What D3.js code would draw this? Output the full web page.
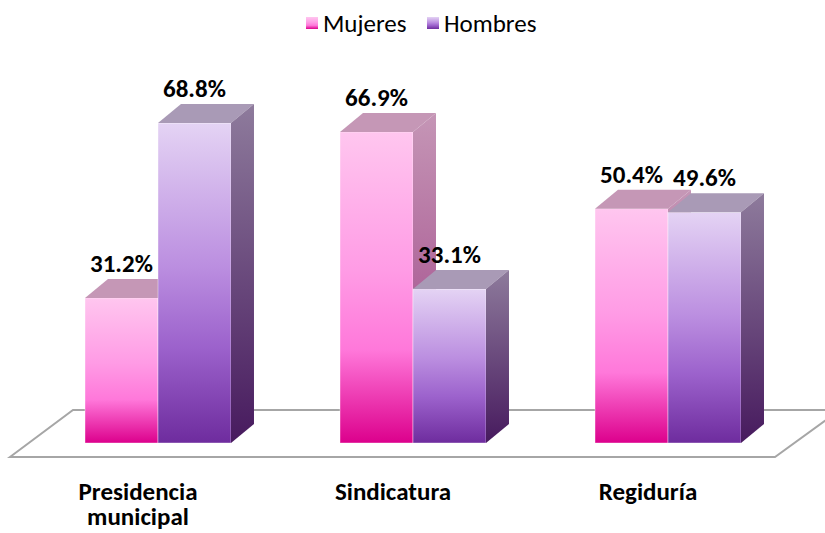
<!DOCTYPE html>
<html>
<head>
<meta charset="utf-8">
<script src="https://cdn.jsdelivr.net/npm/d3@7"></script>
<style>
  body { margin: 0; background: #fff; }
  svg { display: block; }
  text { font-family: Calibri, Carlito, Lato, sans-serif; fill: #000; }
</style>
</head>
<body>
<svg width="825" height="533"></svg>
<script>
// data
var categories = ["Presidencia municipal", "Sindicatura", "Regiduría"];
var catLines = [["Presidencia", "municipal"], ["Sindicatura"], ["Regiduría"]];
var series = ["Mujeres", "Hombres"];
var mujeres = [31.2, 66.9, 50.4];
var hombres = [68.8, 33.1, 49.6];

var svg = d3.select("svg"),
    base = 443,
    dx = 23, dy = -19;   // depth offset of the 3d boxes

var x0 = d3.scaleBand().domain(categories).range([34, 792])
    .paddingInner(0.4275).paddingOuter(0.2);
var x1 = d3.scaleBand().domain(series).range([0, x0.bandwidth()]);
var y = d3.scaleLinear().domain([0, 80]).range([base, base - 372]);

var defs = svg.append("defs");
function grad(id, stops) {
    var g = defs.append("linearGradient").attr("id", id)
        .attr("x1", 0).attr("y1", 0).attr("x2", 0).attr("y2", 1);
    stops.forEach(function (s) {
        g.append("stop").attr("offset", s[0]).attr("stop-color", s[1]);
    });
}
grad("g-Mujeres", [[0, "#ffc6ef"], [0.45, "#ff9be5"], [0.7, "#ff78da"], [1, "#dc008c"]]);
grad("g-Hombres", [[0, "#e4d3f4"], [0.45, "#bb8ee0"], [0.7, "#9c62cc"], [1, "#6e2c9e"]]);
grad("s-Mujeres", [[0, "#c596b6"], [1, "#9c3c82"]]);
grad("s-Hombres", [[0, "#8e7b9c"], [1, "#471a5e"]]);
var topCol = { Mujeres: "#c597b6", Hombres: "#a99ab6" };

// floor
var floorY1 = y(0) + 14, floorY0 = y(0) - 33;
svg.append("path")
    .attr("d", "M10," + floorY1 + "L73," + floorY0 + "L840," + floorY0 + "L775," + floorY1 + "Z")
    .attr("fill", "#fff")
    .attr("stroke", "#a6a6a6")
    .attr("stroke-width", 2);

var data = categories.map(function (c, i) {
    return { cat: c, vals: [{ s: "Mujeres", v: mujeres[i] }, { s: "Hombres", v: hombres[i] }] };
});

var groups = svg.selectAll(".grp").data(data).enter().append("g")
    .attr("class", "grp")
    .attr("transform", function (d) { return "translate(" + x0(d.cat) + ",0)"; });

var bars = groups.selectAll(".bar").data(function (d) { return d.vals; }).enter()
    .append("g").attr("class", "bar");

// front face
bars.append("rect")
    .attr("x", function (d) { return x1(d.s); })
    .attr("y", function (d) { return y(d.v); })
    .attr("width", x1.bandwidth())
    .attr("height", function (d) { return y(0) - y(d.v); })
    .attr("fill", function (d) { return "url(#g-" + d.s + ")"; })
    .attr("stroke", "rgba(255,255,255,0.5)")
    .attr("stroke-width", 0.8);

// top face
bars.append("path")
    .attr("d", function (d) {
        var l = x1(d.s), r = l + x1.bandwidth(), t = y(d.v);
        return "M" + l + "," + t + "L" + (l + dx) + "," + (t + dy) + "L" + (r + dx) + "," + (t + dy) + "L" + r + "," + t + "Z";
    })
    .attr("fill", function (d) { return topCol[d.s]; });

// side face
bars.append("path")
    .attr("d", function (d) {
        var r = x1(d.s) + x1.bandwidth(), t = y(d.v);
        return "M" + r + "," + t + "L" + (r + dx) + "," + (t + dy) + "L" + (r + dx) + "," + (y(0) + dy) + "L" + r + "," + y(0) + "Z";
    })
    .attr("fill", function (d) { return "url(#s-" + d.s + ")"; });

// value labels
bars.append("text")
    .attr("x", function (d) { return x1(d.s) + x1.bandwidth() / 2; })
    .attr("y", function (d) { return y(d.v) - 26; })
    .attr("text-anchor", "middle")
    .style("font-size", "25px")
    .style("font-weight", "bold")
    .text(function (d) { return d.v.toFixed(1) + "%"; });

// category labels
groups.each(function (d, i) {
    var t = d3.select(this).append("text")
        .attr("text-anchor", "middle")
        .style("font-size", "25px")
        .style("font-weight", "bold");
    catLines[i].forEach(function (line, k) {
        t.append("tspan")
            .attr("x", x0.bandwidth() / 2 - 20)
            .attr("y", 500 + k * 25)
            .text(line);
    });
});

// legend
var legend = svg.append("g").attr("transform", "translate(306,0)");
var lx = [0, 121];
series.forEach(function (s, i) {
    legend.append("rect")
        .attr("x", lx[i]).attr("y", 17)
        .attr("width", 12).attr("height", 12)
        .attr("fill", "url(#g-" + s + ")");
    legend.append("text")
        .attr("x", lx[i] + 17).attr("y", 32)
        .style("font-size", "25px")
        .text(s);
});
</script>
</body>
</html>
